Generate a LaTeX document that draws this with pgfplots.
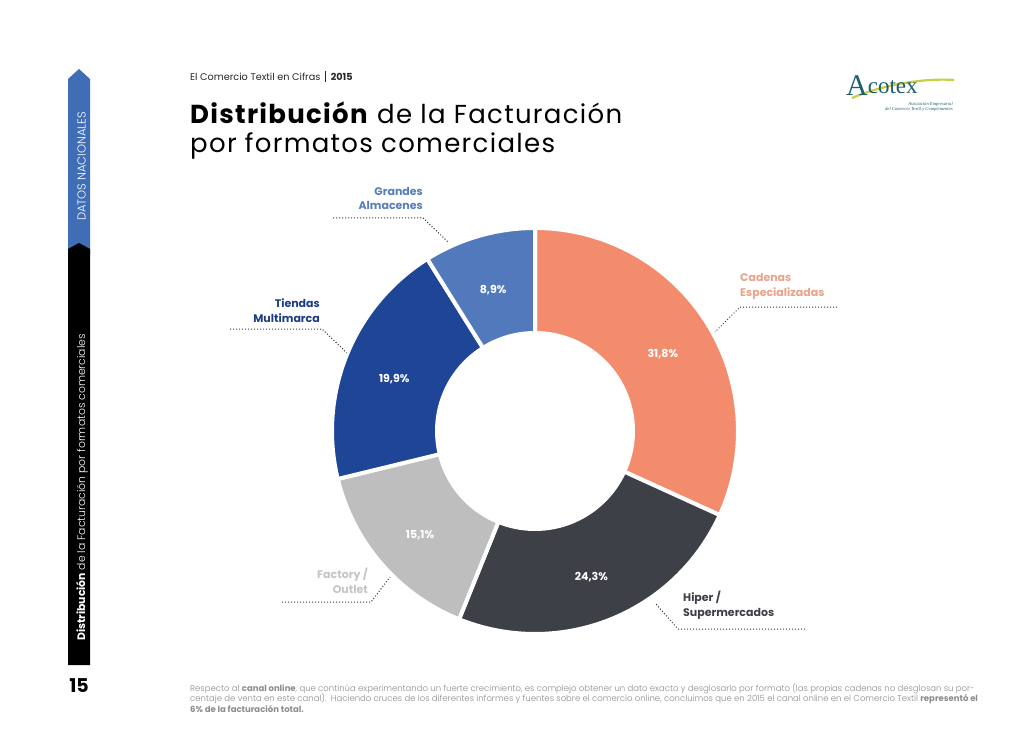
\documentclass[border=0pt]{standalone}
\usepackage{pgfplots}
\pgfplotsset{compat=1.18}
\usepackage{pgfplotstable}
\usepackage{fontspec}
\setmainfont{Poppins}
\newfontfamily\plight{Poppins Light}
\newfontfamily\logofont{Liberation Serif}
\definecolor{cadenas}{HTML}{F28C6D}
\definecolor{hiper}{HTML}{3E4048}
\definecolor{factory}{HTML}{BEBEBE}
\definecolor{tiendas}{HTML}{1E4596}
\definecolor{grandes}{HTML}{5279BB}
\definecolor{cadenasL}{HTML}{E8A38B}
\definecolor{hiperL}{HTML}{3E4048}
\definecolor{factoryL}{HTML}{C4C4C4}
\definecolor{tiendasL}{HTML}{1F3E7F}
\definecolor{grandesL}{HTML}{5A7DB5}
\definecolor{sideblue}{HTML}{3F6EB7}
\definecolor{foot}{HTML}{8C8C8C}
\definecolor{logoteal}{HTML}{1D5F6B}
\definecolor{logogreen}{HTML}{C9CF45}

\pgfplotstableread{
seg pct col
Cadenas 31.8 cadenas
Hiper 24.3 hiper
Factory 15.1 factory
Tiendas 19.9 tiendas
Grandes 8.9 grandes
}\donut

\begin{document}
\begin{tikzpicture}[x=1pt,y=-1pt]
\fill[white] (0,0) rectangle (1024,735);
% sidebar
\fill[sideblue] (68,79) -- (79,69) -- (90,79) -- (90,255) -- (68,255) -- cycle;
\fill[black] (68,249) -- (79,243) -- (90,249) -- (90,665) -- (68,665) -- cycle;
\node[rotate=90, anchor=base west, inner sep=0, text=white, font=\plight\fontsize{11.5}{13}\selectfont] at (85.5,221) {DATOS NACIONALES};
\node[rotate=90, anchor=base west, inner sep=0, text=white, font=\plight\fontsize{10.8}{12}\selectfont] at (85,641) {{\fontspec{Poppins}\bfseries Distribución} de la Facturación por formatos comerciales};
\node[font=\bfseries\fontsize{19}{22}\selectfont, inner sep=0] at (79,686) {15};

% header
\node[anchor=base west, inner sep=0, font=\fontsize{9.7}{11}\selectfont, text=black!85] at (190,81) {El Comercio Textil en Cifras\enspace\rule[-1.5pt]{0.6pt}{11pt}\enspace\textbf{2015}};
\node[anchor=base west, inner sep=0, font=\fontsize{26}{30}\selectfont\addfontfeatures{LetterSpace=5}] at (190,124) {\textbf{Distribución} de la Facturación};
\node[anchor=base west, inner sep=0, font=\fontsize{26}{30}\selectfont\addfontfeatures{LetterSpace=5}] at (190,153) {por formatos comerciales};

% logo
\draw[logogreen, line width=2.2pt] (852,98) .. controls (885,84) and (925,78) .. (954,80);
\node[anchor=base west, inner sep=0, text=logoteal, font=\logofont\fontsize{30}{32}\selectfont] at (846,96) {A\raisebox{2pt}{\fontsize{23}{25}\selectfont cotex}};
\node[anchor=north east, inner sep=0, align=right, text=logoteal, font=\logofont\itshape\fontsize{4.6}{5.2}\selectfont] at (953,102) {Asociación Empresarial\\del Comercio Textil y Complementos};

% donut
\begin{axis}[at={(535pt,-431pt)}, anchor=center, scale only axis, width=400pt, height=400pt,
  xmin=-1, xmax=1, ymin=-1, ymax=1, hide axis, clip=false]
\pgfmathsetmacro{\cum}{0}
\pgfplotsforeachungrouped \i in {0,1,2,3,4}{
  \pgfplotstablegetelem{\i}{pct}\of\donut
  \let\pct\pgfplotsretval
  \pgfplotstablegetelem{\i}{col}\of\donut
  \let\col\pgfplotsretval
  \pgfmathsetmacro{\aS}{90-3.6*\cum}
  \pgfmathsetmacro{\cum}{\cum+\pct}
  \pgfmathsetmacro{\aE}{90-3.6*\cum}
  \edef\tmp{\noexpand\addplot[fill=\col, draw=white, line width=4pt, line join=miter, domain=\aE:\aS, samples=90] ({1.015*cos(x)},{1.015*sin(x)}) -- (0,0) -- cycle;}
  \tmp
}
\addplot[fill=white, draw=none, domain=0:360, samples=120] ({0.5*cos(x)},{0.5*sin(x)}) -- cycle;
\pgfmathsetmacro{\cum}{0}
\pgfplotsforeachungrouped \i in {0,1,2,3,4}{
  \pgfplotstablegetelem{\i}{pct}\of\donut
  \let\pct\pgfplotsretval
  \pgfmathsetmacro{\aS}{90-3.6*\cum}
  \pgfmathsetmacro{\cum}{\cum+\pct}
  \pgfmathsetmacro{\aE}{90-3.6*\cum}
  \pgfmathsetmacro{\aM}{(\aS+\aE)/2}
  \edef\tmp{\noexpand\node[text=white, font=\noexpand\bfseries\noexpand\fontsize{11}{13}\noexpand\selectfont] at (axis cs:{0.76*cos(\aM)},{0.76*sin(\aM)-0.025}) {\noexpand\pgfmathprintnumber[use comma, fixed, fixed zerofill, precision=1, assume math mode=true]{\pct}\noexpand\%};}
  \tmp
}
\end{axis}

% leader lines
\begin{scope}[dotted, line width=1pt, black!80]
\draw (333,218) -- (423,218) -- (448,242);
\draw (230,329) -- (322,329) -- (347,353);
\draw (282,602) -- (371,602) -- (390,577);
\draw (837,307) -- (740,307) -- (715,332);
\draw (805,629) -- (678,629) -- (655,603);
\end{scope}
% category labels
\begin{scope}[every node/.style={inner sep=0, font=\bfseries\fontsize{11}{14.5}\selectfont}]
\node[anchor=base east, align=right, text=grandesL] at (423,210) {Grandes\\Almacenes};
\node[anchor=base east, align=right, text=tiendasL] at (320,322) {Tiendas\\Multimarca};
\node[anchor=base east, align=right, text=factoryL] at (368,593) {Factory /\\Outlet};
\node[anchor=base west, align=left, text=cadenasL] at (740,296) {Cadenas\\Especializadas};
\node[anchor=base west, align=left, text=hiperL] at (683,616) {Hiper /\\Supermercados};
\end{scope}

% footnote
\begin{scope}[every node/.style={anchor=base west, inner sep=0, text=foot, font=\plight\fontsize{8.5}{9}\selectfont}]
\node at (190,691) {Respecto al {\fontspec{Poppins}\bfseries canal online}, que continúa experimentando un fuerte crecimiento, es complejo obtener un dato exacto y desglosarlo por formato (las propias cadenas no desglosan su por-};
\node at (190,701.5) {centaje de venta en este canal).\enspace Haciendo cruces de los diferentes informes y fuentes sobre el comercio online, concluimos que en 2015 el canal online en el Comercio Textil {\fontspec{Poppins}\bfseries representó el}};
\node at (190,712) {{\fontspec{Poppins}\bfseries 6\% de la facturación total.}};
\end{scope}
\end{tikzpicture}
\end{document}
